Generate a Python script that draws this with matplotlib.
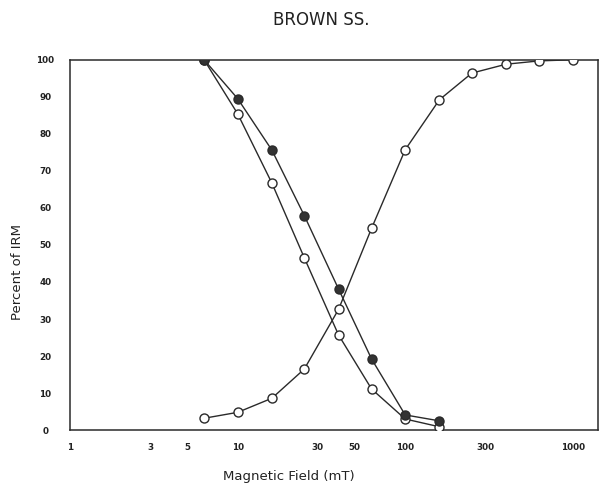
import matplotlib.pyplot as plt

# field steps (mT)
field = [6.3, 10, 16, 25, 40, 63, 100, 160, 250, 400, 630, 1000]
af_field = [6.3, 10, 16, 25, 40, 63, 100, 160]

# AF demag of IRM, filled and open
af_filled = [100, 89.5, 75.6, 57.9, 38.1, 19.2, 4.1, 2.5]
af_open = [100, 85.4, 66.7, 46.5, 25.7, 11.1, 3.0, 0.9]

# IRM acquisition
irm_acq = [3.2, 4.8, 8.6, 16.5, 32.6, 54.5, 75.7, 89.2, 96.4, 98.8, 99.7, 100]

xticks = [1, 3, 5, 10, 30, 50, 100, 300, 1000]
yticks = list(range(0, 101, 10))

plt.rcParams['font.family'] = ['DejaVu Sans']

fig = plt.figure(figsize=(6, 4.86), dpi=100)
ax = fig.add_axes([0.117, 0.115, 0.88, 0.762])

lc = '#2a2a2a'
ax.plot(af_field, af_open, '-o', color=lc, lw=1, ms=6.5,
        mfc='white', mec=lc, zorder=3)
ax.plot(field, irm_acq, '-o', color=lc, lw=1, ms=6.5,
        mfc='white', mec=lc, zorder=3)
# filled series on top, the 100% point shows solid in the original
ax.plot(af_field, af_filled, '-o', color=lc, lw=1, ms=6.5,
        mfc='#333333', mec=lc, zorder=4)

ax.set_xscale('log')
ax.set_xlim(1, 1420)
ax.set_ylim(0, 100)
ax.set_xticks(xticks)
ax.set_xticklabels([str(t) for t in xticks])
ax.minorticks_off()
ax.set_yticks(yticks)
ax.tick_params(length=0, labelsize=6.3, colors='#222222')
for lab in ax.get_xticklabels() + ax.get_yticklabels():
    lab.set_fontweight('bold')
for lab in ax.get_yticklabels():
    lab.set_horizontalalignment('center')
ax.tick_params(axis='y', pad=18)
ax.tick_params(axis='x', pad=9)

for s in ax.spines.values():
    s.set_color(lc)
    s.set_linewidth(1.1)

fig.text(0.482, 0.019, 'Magnetic Field (mT)', ha='center', va='center',
         fontsize=9.5, color='#222222')
fig.text(0.03, 0.44, 'Percent of IRM', ha='center', va='center',
         rotation=90, fontsize=9.5, color='#222222')
fig.text(0.535, 0.958, 'BROWN SS.', ha='center', va='center',
         fontsize=12, color='#222222')

fig.savefig('out.png', dpi=100)
